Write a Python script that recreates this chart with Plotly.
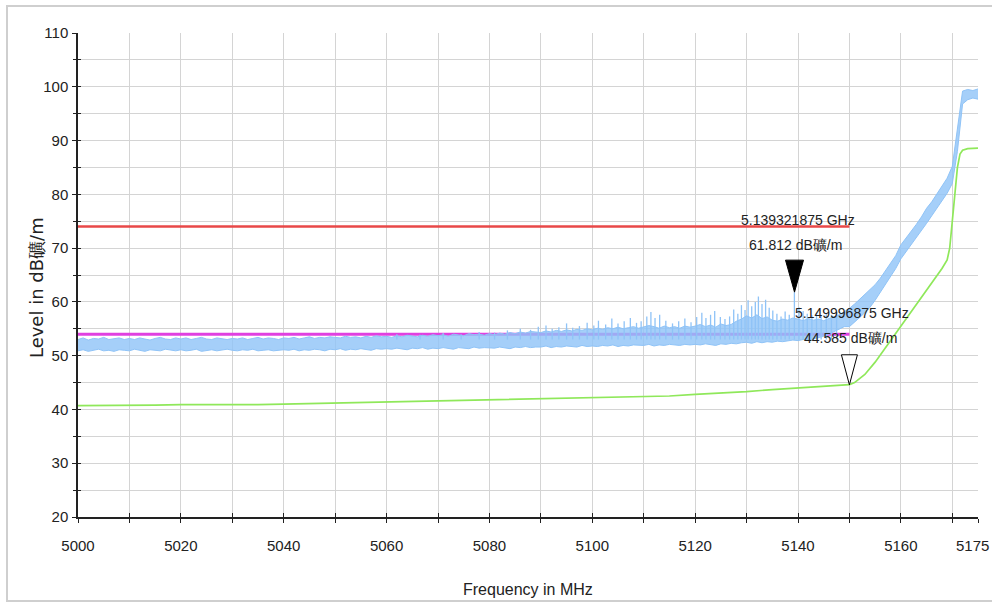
import plotly.graph_objects as go

# ---------------- data ----------------
freq_mhz = list(range(5000, 5176))  # 1 MHz grid for the peak trace core band

peak_low = [
    50.9, 51.1, 50.8, 51.0, 51.2, 50.9, 51.0, 50.8, 51.1, 51.0,
    50.9, 51.2, 51.0, 50.8, 51.1, 51.0, 50.9, 51.2, 51.0, 50.9,
    51.1, 50.9, 51.0, 51.2, 50.8, 51.0, 51.1, 50.9, 51.0, 51.2,
    51.0, 50.9, 51.1, 51.0, 51.2, 50.9, 51.0, 51.1, 50.9, 51.0,
    51.1, 51.0, 51.2, 50.9, 51.1, 51.0, 51.2, 51.1, 50.9, 51.2,
    51.1, 51.3, 51.0, 51.2, 51.1, 51.3, 51.2, 51.0, 51.3, 51.2,
    51.3, 51.2, 51.4, 51.3, 51.1, 51.4, 51.3, 51.5, 51.2, 51.4,
    51.3, 51.5, 51.4, 51.2, 51.5, 51.4, 51.3, 51.6, 51.4, 51.5,
    51.5, 51.4, 51.6, 51.5, 51.3, 51.6, 51.5, 51.7, 51.5, 51.6,
    51.6, 51.8, 51.5, 51.7, 51.6, 51.8, 51.7, 51.6, 51.9, 51.7,
    51.8, 51.7, 51.9, 51.8, 52.0, 51.7, 51.9, 51.8, 52.0, 51.9,
    51.9, 52.1, 51.8, 52.0, 51.9, 52.1, 52.0, 51.9, 52.1, 52.0,
    52.1, 52.0, 52.2, 52.1, 51.9, 52.2, 52.1, 52.3, 52.2, 52.4,
    52.5, 52.3, 52.6, 52.4, 52.6, 52.5, 52.7, 52.6, 52.8, 52.9,
    52.8, 53.0, 52.9, 53.1, 53.3, 53.6, 54.0, 54.5, 55.0, 55.4,
    55.4, 56.2, 57.1, 58.0, 59.0, 60.3, 61.8, 63.2, 64.6, 66.2,
    68.0, 69.3, 70.5, 71.8, 73.2, 74.6, 76.0, 77.4, 78.8, 80.2,
    82.0, 88.0, 96.8, 97.6, 97.9, 97.7,
]

peak_high = [
    53.0, 53.3, 52.9, 53.2, 53.1, 53.4, 53.0, 53.2, 53.3, 53.0,
    53.2, 53.0, 53.3, 53.1, 52.9, 53.2, 53.4, 53.1, 53.0, 53.3,
    53.1, 53.3, 53.0, 53.2, 53.4, 53.1, 53.0, 53.3, 53.2, 53.0,
    53.2, 53.1, 53.3, 53.0, 53.2, 53.4, 53.1, 53.3, 53.2, 53.0,
    53.3, 53.2, 53.4, 53.1, 53.3, 53.5, 53.2, 53.4, 53.3, 53.5,
    53.4, 53.3, 53.6, 53.4, 53.5, 53.3, 53.6, 53.4, 53.7, 53.5,
    53.6, 53.4, 53.7, 53.5, 53.8, 53.6, 53.5, 53.8, 53.6, 53.9,
    53.7, 53.9, 53.6, 54.0, 53.8, 53.7, 54.1, 53.9, 54.0, 53.8,
    54.1, 53.9, 54.2, 54.0, 54.3, 54.1, 54.4, 54.2, 54.5, 54.4,
    54.3, 54.6, 54.4, 54.7, 54.5, 54.8, 54.6, 54.9, 54.7, 55.0,
    54.8, 55.1, 54.9, 55.2, 55.0, 55.3, 55.0, 55.2, 55.4, 55.1,
    55.3, 55.6, 55.4, 55.1, 55.5, 55.2, 55.4, 55.1, 55.5, 55.3,
    55.5, 55.8, 55.4, 55.7, 55.3, 55.9, 55.6, 55.8, 56.4, 56.8,
    57.4, 57.0, 57.6, 56.9, 57.2, 56.6, 56.4, 56.8, 56.6, 57.0,
    56.8, 56.5, 56.9, 56.6, 56.8, 56.5, 56.9, 57.2, 57.6, 58.2,
    58.8, 59.6, 60.5, 61.4, 62.3, 63.2, 64.4, 65.8, 67.2, 68.6,
    70.6, 71.8, 73.0, 74.4, 75.8, 77.4, 78.6, 80.0, 81.4, 83.0,
    85.2, 92.0, 99.2, 99.5, 99.3, 99.6,
]

# isolated peak-detector spikes above the dense core
spike_freq = [5062, 5066.5, 5071, 5074.5, 5078, 5081, 5083.5, 5086, 5088, 5089.5,
              5091, 5092.2, 5093.5, 5095, 5096.2, 5097.5, 5099, 5100.3, 5101.2, 5102.6,
              5103.8, 5105, 5106.2, 5107.4, 5108.6, 5109.5, 5110.6, 5111.4, 5112.2, 5113.1,
              5114.3, 5115.6, 5116.8, 5118, 5119.2, 5120.3, 5121.3, 5122.1, 5123, 5123.8,
              5124.9, 5125.8, 5126.7, 5127.5, 5128.3, 5129, 5129.7, 5130.3, 5131, 5131.7,
              5132.3, 5133, 5133.7, 5134.4, 5135.1, 5135.9, 5136.7, 5137.5, 5138.3, 5139.3,
              5140.2, 5141, 5141.8, 5142.7, 5143.6, 5144.5, 5145.5, 5146.5, 5147.5]
spike_top = [54.0, 53.9, 54.2, 54.0, 54.4, 54.3, 54.7, 55.0, 54.8, 55.4,
             55.6, 55.0, 55.3, 56.0, 55.2, 55.5, 56.1, 55.6, 56.5, 55.8,
             56.9, 56.0, 56.4, 57.0, 56.1, 56.4, 57.3, 58.1, 57.0, 57.6,
             56.5, 56.0, 56.4, 56.9, 56.2, 57.2, 58.0, 57.0, 57.6, 58.3,
             57.2, 56.8, 57.3, 58.6, 57.8, 59.4, 58.5, 60.3, 59.2, 60.0,
             61.0, 59.6, 60.4, 58.9, 58.4, 57.8, 57.3, 58.2, 57.6, 61.8,
             59.0, 58.3, 57.8, 57.5, 58.0, 57.4, 57.9, 57.6, 58.1]
spike_base = [53.0] * len(spike_freq)

avg_freq = [5000, 5005, 5010, 5015, 5020, 5025, 5030, 5035, 5040, 5045,
            5050, 5055, 5060, 5065, 5070, 5075, 5080, 5085, 5090, 5095,
            5100, 5105, 5110, 5115, 5120, 5125, 5130, 5135, 5140, 5145,
            5150, 5151, 5153, 5155, 5160, 5165, 5168, 5169, 5169.5, 5170,
            5170.5, 5171, 5171.5, 5172, 5173, 5175]
avg_level = [40.7, 40.7, 40.8, 40.8, 40.9, 40.9, 40.8, 40.9, 41.0, 41.1,
             41.2, 41.3, 41.3, 41.4, 41.5, 41.6, 41.7, 41.8, 41.9, 42.0,
             42.1, 42.2, 42.4, 42.5, 42.8, 43.0, 43.3, 43.7, 44.0, 44.3,
             44.6, 45.0, 46.5, 48.8, 55.5, 62.2, 66.2, 67.8, 70.0, 75.0,
             80.0, 85.0, 87.5, 88.2, 88.5, 88.6]

limit_freq = [5000, 5150]
limit_peak = [74, 74]
limit_avg = [54, 54]

marker_freq = [5139.321875, 5149.996875]
marker_level = [61.812, 44.585]
marker_ghz = ["5.139321875 GHz", "5.149996875 GHz"]
marker_lvl_txt = ["61.812 dB礦/m", "44.585 dB礦/m"]

x_ticks = list(range(5000, 5171, 10)) + [5175]
x_ticktext = [str(v) if v % 20 == 0 else "" for v in x_ticks]
x_end_label = "5175"

# ---------------- figure ----------------
SANS = "Liberation Sans, Arial, sans-serif"
BLUE = "#8fc3f7"
GREEN = "#8fe85a"

fig = go.Figure()

fig.add_trace(go.Scatter(x=limit_freq, y=limit_peak, mode="lines",
                         line=dict(color="#e84848", width=2.5), hoverinfo="skip"))
fig.add_trace(go.Scatter(x=limit_freq, y=limit_avg, mode="lines",
                         line=dict(color="#e040e0", width=3), hoverinfo="skip"))
fig.add_trace(go.Scatter(x=avg_freq, y=avg_level, mode="lines",
                         line=dict(color=GREEN, width=1.7), hoverinfo="skip"))
fig.add_trace(go.Scatter(x=freq_mhz, y=peak_low, mode="lines",
                         line=dict(color=BLUE, width=1), hoverinfo="skip"))
fig.add_trace(go.Scatter(x=freq_mhz, y=peak_high, mode="lines", fill="tonexty",
                         fillcolor="rgba(143,195,247,0.8)",
                         line=dict(color=BLUE, width=1), hoverinfo="skip"))
sx, sy = [], []
for f, b, t in zip(spike_freq, spike_base, spike_top):
    sx += [f, f, None]
    sy += [b, t, None]
fig.add_trace(go.Scatter(x=sx, y=sy, mode="lines", connectgaps=False,
                         line=dict(color=BLUE, width=1.3), hoverinfo="skip"))
# dummy trace to host the overlay axes that give crossing ticks
fig.add_trace(go.Scatter(x=[], y=[], xaxis="x2", yaxis="y2", showlegend=False))

# marker triangles (pixel-sized, anchored at the marker values)
fig.add_shape(type="path", xref="x", yref="y", xsizemode="pixel", ysizemode="pixel",
              xanchor=marker_freq[0], yanchor=marker_level[0], path="M-9,32 L9,32 L0,0 Z",
              fillcolor="black", line=dict(color="black", width=1))
fig.add_shape(type="path", xref="x", yref="y", xsizemode="pixel", ysizemode="pixel",
              xanchor=marker_freq[1], yanchor=marker_level[1], path="M-8,30 L8,30 L0,0 Z",
              fillcolor="white", line=dict(color="black", width=1))

for i in range(2):
    fig.add_annotation(x=marker_freq[i], y=marker_level[i], xref="x", yref="y",
                       text=marker_ghz[i], showarrow=False, xshift=3, yshift=72,
                       font=dict(family=SANS, size=14, color="#222"))
    fig.add_annotation(x=marker_freq[i], y=marker_level[i], xref="x", yref="y",
                       text=marker_lvl_txt[i], showarrow=False, xshift=1, yshift=47,
                       font=dict(family=SANS, size=14, color="#222"))

# end-of-axis frequency label, kept inside the page
fig.add_annotation(x=x_ticks[-1], y=0, xref="x", yref="paper", text=x_end_label,
                   xanchor="right", yanchor="middle", xshift=13, yshift=-28,
                   showarrow=False, font=dict(family=SANS, size=15, color="#222"))

# axis titles
fig.add_annotation(text="Frequency in MHz", xref="paper", yref="paper", x=0.5, y=0,
                   xanchor="center", yanchor="middle", yshift=-72, showarrow=False,
                   font=dict(family=SANS, size=16, color="#222"))
fig.add_annotation(text="Level in dB礦/m", xref="paper", yref="paper", x=0,
                   y=0.473, xanchor="center", yanchor="middle", xshift=-42,
                   textangle=-90, showarrow=False,
                   font=dict(family="DejaVu Sans, sans-serif", size=18, color="#222"))

# outer frame
fig.add_shape(type="rect", xref="paper", yref="paper",
              x0=-71 / 900, x1=1.02, y0=-84 / 484, y1=511 / 484,
              line=dict(color="#cfcfcf", width=2), fillcolor="rgba(0,0,0,0)", layer="below")

GRID = "#d4d4d4"
fig.update_layout(
    width=992, height=603, autosize=False,
    margin=dict(l=78, r=14, t=33, b=86, autoexpand=False),
    paper_bgcolor="white", plot_bgcolor="white",
    showlegend=False,
    xaxis=dict(range=[5000, 5175], tickvals=x_ticks, ticktext=x_ticktext,
               showgrid=True, gridcolor=GRID, gridwidth=1,
               showline=True, linecolor="#222", linewidth=1.5,
               ticks="outside", ticklen=4, tickcolor="#222", tickwidth=1.2,
               ticklabelstandoff=10, automargin=False,
               tickfont=dict(family=SANS, size=15, color="#222"),
               zeroline=False),
    yaxis=dict(range=[20, 110], tickvals=list(range(20, 111, 10)),
               showgrid=True, gridcolor=GRID, gridwidth=1.3,
               minor=dict(tickvals=list(range(25, 110, 10)), showgrid=True,
                          gridcolor=GRID, gridwidth=1.3, ticks="outside",
                          ticklen=3, tickcolor="#222"),
               showline=True, linecolor="#222", linewidth=1.5,
               ticks="outside", ticklen=4, tickcolor="#222", tickwidth=1.2,
               ticklabelstandoff=1, automargin=False, ticklabeloverflow="allow",
               tickfont=dict(family=SANS, size=15, color="#222"),
               zeroline=False),
    xaxis2=dict(overlaying="x", anchor="y2", range=[5000, 5175], tickvals=x_ticks,
                showticklabels=False, showgrid=False, ticks="inside", ticklen=4,
                tickcolor="#222", tickwidth=1.2, zeroline=False, showline=False),
    yaxis2=dict(overlaying="y", anchor="x2", range=[20, 110],
                tickvals=list(range(20, 111, 5)), showticklabels=False,
                showgrid=False, ticks="inside", ticklen=3, tickcolor="#222",
                zeroline=False, showline=False),
)

fig.write_html("out.html", config={"displayModeBar": False},
               post_script="document.body.style.margin='0';document.body.style.overflow='hidden';")
